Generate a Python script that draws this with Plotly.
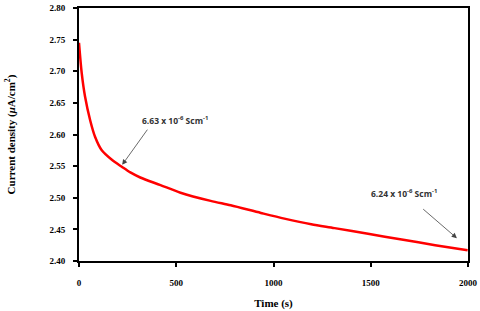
import plotly.graph_objects as go

time_s = [0, 14, 31, 57, 83, 117, 169, 220, 264, 315, 419, 522, 677, 780, 935,
          1056, 1194, 1314, 1486, 1659, 1831, 1998]
current = [2.745, 2.697, 2.660, 2.623, 2.596, 2.575, 2.560, 2.549, 2.540, 2.532,
           2.520, 2.508, 2.495, 2.488, 2.476, 2.467, 2.458, 2.452, 2.443, 2.434,
           2.425, 2.417]

x_ticks = [0, 500, 1000, 1500, 2000]
y_ticks = [2.40, 2.45, 2.50, 2.55, 2.60, 2.65, 2.70, 2.75, 2.80]

label1 = "6.63 x 10<sup>-6</sup> Scm<sup>-1</sup>"
label2 = "6.24 x 10<sup>-6</sup> Scm<sup>-1</sup>"

fig = go.Figure()
fig.add_trace(go.Scatter(x=time_s, y=current, mode="lines",
                         line=dict(color="#ff0000", width=2.5, shape="spline", smoothing=0.8),
                         showlegend=False, hoverinfo="skip"))

tick_font = dict(family="Liberation Serif", size=9, color="#000")
axis_common = dict(showline=True, linecolor="black", linewidth=2, mirror=True,
                   ticks="outside", ticklen=4, tickwidth=2, tickcolor="black",
                   showgrid=False, zeroline=False, tickfont=tick_font, automargin=False)

fig.update_layout(
    width=480, height=311,
    margin=dict(l=79, r=12, t=8, b=50),
    paper_bgcolor="white", plot_bgcolor="white",
    xaxis=dict(range=[0, 2000], tickvals=x_ticks,
               ticktext=[f"<b>{v}</b>" for v in x_ticks],
               ticklabelstandoff=8,
               title=dict(text="<b>Time (s)</b>", font=dict(family="Liberation Serif", size=11, color="#000"),
                          standoff=13),
               **axis_common),
    yaxis=dict(range=[2.40, 2.80], tickvals=y_ticks,
               ticktext=[f"<b>{v:.2f}</b>" for v in y_ticks],
               ticklabelstandoff=6,
               title=dict(text="<b>Current density (<i>μ</i>A/cm<sup>2</sup>)</b>",
                          font=dict(family="Liberation Serif", size=11, color="#000"),
                          standoff=32),
               **axis_common),
)

ann_font = dict(family="Open Sans", size=8.5, color="#333")
fig.add_annotation(x=491, y=2.623, xref="x", yref="y", text=f"<b>{label1}</b>",
                   showarrow=False, font=ann_font)
fig.add_annotation(x=1669, y=2.507, xref="x", yref="y", text=f"<b>{label2}</b>",
                   showarrow=False, font=ann_font)
fig.add_annotation(x=222, y=2.552, ax=357, ay=2.610, xref="x", yref="y", axref="x", ayref="y",
                   text="", showarrow=True, arrowhead=2, arrowsize=1.3, arrowwidth=0.8,
                   arrowcolor="#444")
fig.add_annotation(x=1943, y=2.436, ax=1762, ay=2.484, xref="x", yref="y", axref="x", ayref="y",
                   text="", showarrow=True, arrowhead=2, arrowsize=1.3, arrowwidth=0.8,
                   arrowcolor="#444")

fig.write_html("out.html", config={"displayModeBar": False},
               post_script="document.body.style.margin='0';document.body.style.overflow='hidden';")
